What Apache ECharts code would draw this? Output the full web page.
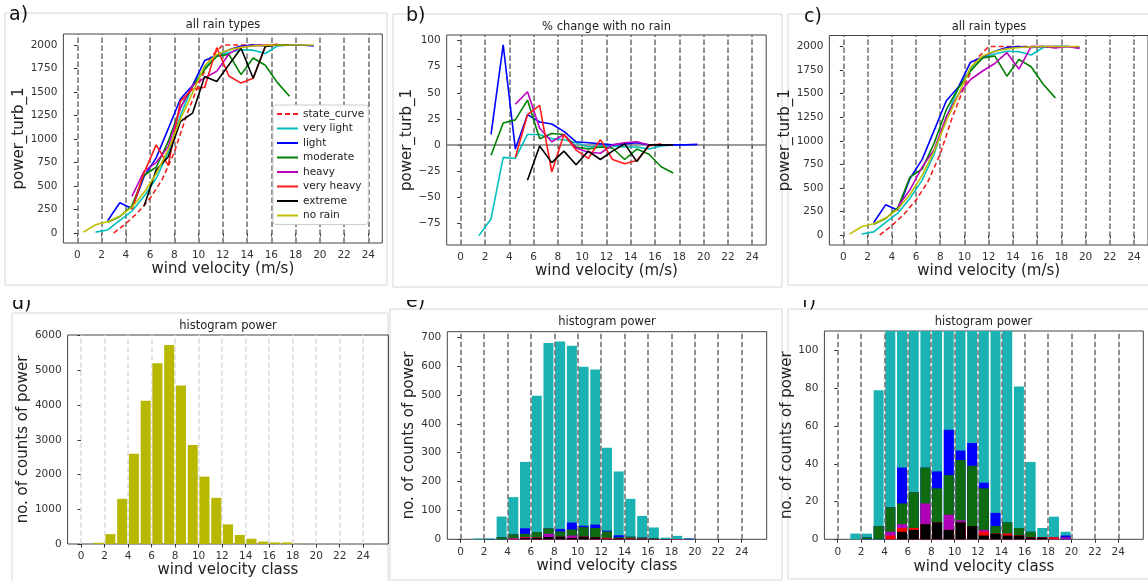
<!DOCTYPE html>
<html>
<head>
<meta charset="utf-8">
<script src="https://cdn.jsdelivr.net/npm/echarts@6/dist/echarts.min.js"></script>
<style>
  html, body { margin: 0; padding: 0; background: #fff; }
  #chart1 { width: 1148px; height: 581px; }
</style>
</head>
<body>
<div id="chart1"></div>
<script>
// ---- data ----
var binX = [0.5, 1.5, 2.5, 3.5, 4.5, 5.5, 6.5, 7.5, 8.5, 9.5, 10.5, 11.5, 12.5, 13.5, 14.5, 15.5, 16.5, 17.5, 18.5, 19.5];

var stateX = [3, 4, 5, 6, 7, 8, 9, 10, 11, 12, 13, 14, 15, 16, 17];
var stateCurve = [0, 100, 220, 370, 570, 860, 1250, 1580, 1870, 2000, 2000, 2000, 2000, 2000, 2000];

// mean power per wind bin (panel a)
var noRain    = [10, 88, 120, 180, 275, 430, 630, 890, 1210, 1490, 1780, 1900, 1950, 1975, 1990, 1995, 2000, 2000, 2000, 2000];
var veryLight = [null, 10, 33, 135, 232, 390, 580, 860, 1250, 1560, 1760, 1880, 1920, 1950, 1945, 1910, 1990, 2000, 2000, null];
var light     = [null, null, 130, 322, 262, 600, 800, 1110, 1425, 1570, 1834, 1890, 1950, 1990, 2000, 1990, 2000, 2000, 2000, 1990];
var moderate  = [null, null, 115, 175, 290, 615, 700, 975, 1330, 1560, 1740, 1880, 1900, 1685, 1862, 1785, 1600, 1455, null, null];
var heavy     = [null, null, null, null, 390, 655, 750, 920, 1330, 1570, 1650, 1720, 1905, 1980, 1990, 2000, null, null, null, null];
var veryHeavy = [null, null, null, null, 250, 640, 938, 719, 1400, 1530, 1550, 1972, 1670, 1595, 1646, 1985, 2010, null, null, null];
var extreme   = [null, null, null, null, null, 285, 670, 812, 1186, 1275, 1664, 1611, 1790, 1965, 1646, 1985, 2000, 2000, null, null];

// heavy rain curve of panel c
var heavyC    = [null, null, null, null, 300, 480, 720, 905, 1255, 1490, 1650, 1740, 1820, 1935, 1760, 2000, 2000, 1985, 2000, 1980];

// % change with no rain (panel b)
var veryLightPct = [null, -87, -71, -12, -13, 10, 10, 6, 5, 2, -2, -1, -1, -2, -2, -4, -1, 0, 0, null];
var lightPct     = [null, null, 10, 96, -4, 29, 22, 20, 13, 3, 2, 1, 0, 1, 2, 0, 0, 0, 0, 0.5];
var moderatePct  = [null, null, -10, 21, 24, 43, 6, 11, 10, -2, -4, -2, -3, -14, -4, -9, -21, -27, null, null];
var heavyPct     = [null, null, null, null, 39, 51, 16, 3, 10, -3, -7, -8, 0, 2, 3, 0, null, null, null, null];
var veryHeavyPct = [null, null, null, null, -12, 29, 38, -26, 10, -5, -13, 5, -14, -18, -15, -1, 1, null, null, null];
var extremePct   = [null, null, null, null, null, -34, -1, -17, -6, -19, -6, -14, -6, 1, -16, 0, 0, 0, null, null];

// histograms
var classX = [0.5, 1.5, 2.5, 3.5, 4.5, 5.5, 6.5, 7.5, 8.5, 9.5, 10.5, 11.5, 12.5, 13.5, 14.5, 15.5, 16.5, 17.5, 18.5, 19.5, 20.5, 21.5, 22.5, 23.5, 24.5];
var histAll = [0, 35, 285, 1300, 2600, 4125, 5200, 5730, 4560, 2850, 1940, 1330, 565, 260, 150, 70, 45, 45, 5, 0, 0, 0, 0, 0, 0];

var rainExtreme   = [0, 0, 0, 0, 0, 4, 5, 8, 9, 5, 9, 7, 2, 3, 2, 2, 1, 1, 0, 0, 0, 0, 0, 0, 0];
var rainVeryHeavy = [0, 0, 0, 0, 2, 2, 1, 0, 0, 0, 0, 0, 2, 0, 1, 0, 0, 0, 1, 0, 0, 0, 0, 0, 0];
var rainHeavy     = [0, 0, 0, 0, 2, 2, 0, 11, 0, 8, 1, 0, 1, 0, 0, 0, 0, 0, 0, 1, 0, 0, 0, 0, 0];
var rainModerate  = [0, 0, 1, 7, 13, 11, 19, 19, 18, 21, 32, 32, 22, 4, 6, 4, 3, 0, 0, 0, 0, 0, 0, 0, 0];
var rainLight     = [0, 0, 0, 0, 0, 19, 0, 0, 9, 24, 5, 12, 3, 7, 0, 0, 0, 0, 0, 1, 0, 0, 0, 0, 0];
var rainVeryLight = [0, 3, 2, 72, 129, 230, 472, 642, 649, 612, 551, 537, 287, 221, 131, 75, 37, 5, 11, 2, 0, 0, 0, 0, 0];

// tick labels
var windTicks = [0, 2, 4, 6, 8, 10, 12, 14, 16, 18, 20, 22, 24];
var powerTicks = [0, 250, 500, 750, 1000, 1250, 1500, 1750, 2000];
var pctTicks = [-75, -50, -25, 0, 25, 50, 75, 100];
var countTicksD = [0, 1000, 2000, 3000, 4000, 5000, 6000];
var countTicksE = [0, 100, 200, 300, 400, 500, 600, 700];
var countTicksF = [0, 20, 40, 60, 80, 100];

var rainNames = ['state_curve', 'very light', 'light', 'moderate', 'heavy', 'very heavy', 'extreme', 'no rain'];

// ---- chart ----
var FONT = 'DejaVu Sans';
var COL = {
  state: '#f02020', veryLight: '#00bfbf', light: '#0000ff', moderate: '#008000',
  heavy: '#bf00bf', veryHeavy: '#ff1a1a', extreme: '#000000', noRain: '#bfbf00'
};
var BAR = {
  veryLight: '#1ab2b2', light: '#0000ff', moderate: '#0f6b0f',
  heavy: '#b000b8', veryHeavy: '#ff0000', extreme: '#000000', all: '#b8b800'
};

var dom = document.getElementById('chart1');
var myChart = echarts.init(dom, null, { renderer: 'canvas' });

function pairs(xs, ys) {
  var out = [];
  for (var i = 0; i < xs.length; i++) {
    if (ys[i] != null) out.push([xs[i], ys[i]]);
  }
  return out;
}

function cumulate(list) {
  var out = [], run = [];
  for (var k = 0; k < list.length; k++) {
    for (var i = 0; i < list[k].length; i++) {
      run[i] = (run[i] || 0) + list[k][i];
    }
    out.push(run.slice());
  }
  return out;
}

function lineSeries(name, color, xs, ys, idx, dashed) {
  return {
    name: name, type: 'line', xAxisIndex: idx, yAxisIndex: idx,
    data: pairs(xs, ys), symbol: 'none', showSymbol: false, z: 3,
    lineStyle: { color: color, width: 1.6, type: dashed ? [5, 3] : 'solid' },
    itemStyle: { color: color }, emphasis: { disabled: true }
  };
}

function barSeries(color, ys, idx) {
  return {
    type: 'bar', xAxisIndex: idx, yAxisIndex: idx, data: pairs(classX, ys),
    barWidth: 10, barGap: '-100%', z: 2, clip: true,
    itemStyle: { color: color }, emphasis: { disabled: true }
  };
}

function vlines(idx, color, z) {
  return {
    type: 'line', xAxisIndex: idx, yAxisIndex: idx, data: [], silent: true,
    markLine: {
      silent: true, z: z, animation: false, symbol: ['none', 'none'], label: { show: false },
      lineStyle: { color: color, type: [5.5, 2.5], width: 1.5 },
      data: windTicks.map(function (v) { return { xAxis: v }; })
    }
  };
}

function xAxisFor(idx, min, max, name, gap) {
  return {
    type: 'value', gridIndex: idx, min: min, max: max,
    name: name, nameLocation: 'middle', nameGap: gap,
    nameTextStyle: { fontSize: 15, color: '#222', fontFamily: FONT },
    axisLine: { show: false }, splitLine: { show: false },
    axisTick: { show: true, length: 3.5, customValues: windTicks, lineStyle: { color: '#333' } },
    axisLabel: { customValues: windTicks, fontSize: 10.5, color: '#333', margin: 7, fontFamily: FONT }
  };
}

function yAxisFor(idx, min, max, ticks, name, gap) {
  return {
    type: 'value', gridIndex: idx, min: min, max: max,
    name: name, nameLocation: 'middle', nameGap: gap,
    nameTextStyle: { fontSize: 15, color: '#222', fontFamily: FONT },
    axisLine: { show: false }, splitLine: { show: false },
    axisTick: { show: true, length: 3.5, customValues: ticks, lineStyle: { color: '#333' } },
    axisLabel: {
      customValues: ticks, fontSize: 10.5, color: '#333', margin: 6, fontFamily: FONT,
      formatter: function (v) { return String(v).replace('-', '\u2212'); }
    }
  };
}

var gridBase = { show: true, borderColor: '#444', borderWidth: 1, backgroundColor: 'transparent', containLabel: false };
var grids = [
  { left: 63.4, top: 34, width: 318.9, height: 209 },
  { left: 446.7, top: 35, width: 319.5, height: 210 },
  { left: 829.4, top: 35.5, width: 318.9, height: 209.5 },
  { left: 67.6, top: 335, width: 320.8, height: 209 },
  { left: 447.3, top: 331.7, width: 319.4, height: 207.6 },
  { left: 824.4, top: 331, width: 318.9, height: 208.3 }
].map(function (g) { return Object.assign({}, gridBase, g); });

var rainCum = cumulate([rainExtreme, rainVeryHeavy, rainHeavy, rainModerate, rainLight, rainVeryLight]);
var rainColors = [BAR.extreme, BAR.veryHeavy, BAR.heavy, BAR.moderate, BAR.light, BAR.veryLight];

function rainBars(idx) {
  var out = [];
  for (var k = rainCum.length - 1; k >= 0; k--) {
    out.push(barSeries(rainColors[k], rainCum[k], idx));
  }
  return out;
}

var series = [
  vlines(0, '#6e6e6e', 1),
  lineSeries('state_curve', COL.state, stateX, stateCurve, 0, true),
  lineSeries('very light', COL.veryLight, binX, veryLight, 0),
  lineSeries('light', COL.light, binX, light, 0),
  lineSeries('moderate', COL.moderate, binX, moderate, 0),
  lineSeries('heavy', COL.heavy, binX, heavy, 0),
  lineSeries('very heavy', COL.veryHeavy, binX, veryHeavy, 0),
  lineSeries('extreme', COL.extreme, binX, extreme, 0),
  lineSeries('no rain', COL.noRain, binX, noRain, 0),

  vlines(1, '#6e6e6e', 1),
  {
    type: 'line', xAxisIndex: 1, yAxisIndex: 1, data: [], silent: true,
    markLine: {
      silent: true, z: 2, animation: false, symbol: ['none', 'none'], label: { show: false },
      lineStyle: { color: '#7a7a7a', type: 'solid', width: 1.5 },
      data: [{ yAxis: 0 }]
    }
  },
  lineSeries('very light', COL.veryLight, binX, veryLightPct, 1),
  lineSeries('light', COL.light, binX, lightPct, 1),
  lineSeries('moderate', COL.moderate, binX, moderatePct, 1),
  lineSeries('heavy', COL.heavy, binX, heavyPct, 1),
  lineSeries('very heavy', COL.veryHeavy, binX, veryHeavyPct, 1),
  lineSeries('extreme', COL.extreme, binX, extremePct, 1),

  vlines(2, '#6e6e6e', 1),
  lineSeries('state_curve', COL.state, stateX, stateCurve, 2, true),
  lineSeries('very light', COL.veryLight, binX, veryLight, 2),
  lineSeries('light', COL.light, binX, light, 2),
  lineSeries('moderate', COL.moderate, binX, moderate, 2),
  lineSeries('heavy', COL.heavy, binX, heavyC, 2),
  lineSeries('no rain', COL.noRain, binX, noRain, 2),

  vlines(3, '#dcdcdc', 1),
  barSeries(BAR.all, histAll, 3),

  vlines(4, '#6e6e6e', 5)
].concat(rainBars(4)).concat([vlines(5, '#6e6e6e', 5)]).concat(rainBars(5));

function label(text, x, y, size, vAlign) {
  return {
    type: 'text', x: x, y: y, z: 10, silent: true,
    style: {
      text: text, fill: '#111', fontSize: size, fontFamily: FONT,
      align: 'left', textAlign: 'left', verticalAlign: vAlign, textVerticalAlign: vAlign
    }
  };
}
function title(text, x, y) {
  return {
    type: 'text', x: x, y: y, z: 10, silent: true,
    style: {
      text: text, fill: '#222', fontSize: 11.5, fontFamily: FONT,
      align: 'center', textAlign: 'center', verticalAlign: 'middle', textVerticalAlign: 'middle'
    }
  };
}
function frame(x, y, w, h) {
  return {
    type: 'rect', z: -1, silent: true, shape: { x: x, y: y, width: w, height: h },
    style: { fill: 'none', stroke: '#d6d6d6', lineWidth: 1 }
  };
}
function mask(x, y, w, h) {
  return {
    type: 'rect', z: 11, silent: true, shape: { x: x, y: y, width: w, height: h },
    style: { fill: '#fff', stroke: 'none' }
  };
}

var option = {
  animation: false,
  textStyle: { fontFamily: FONT },
  grid: grids,
  xAxis: [
    xAxisFor(0, -1.15, 25.15, 'wind velocity (m/s)', 17),
    xAxisFor(1, -1.15, 25.15, 'wind velocity (m/s)', 17),
    xAxisFor(2, -1.15, 25.15, 'wind velocity (m/s)', 18.5),
    xAxisFor(3, -1.14, 26.14, 'wind velocity class', 17.5),
    xAxisFor(4, -1.14, 26.14, 'wind velocity class', 19),
    xAxisFor(5, -1.14, 26.14, 'wind velocity class', 20)
  ],
  yAxis: [
    yAxisFor(0, -106, 2117, powerTicks, 'power_turb_1', 34),
    yAxisFor(1, -96, 105.4, pctTicks, 'power_turb_1', 30),
    yAxisFor(2, -106, 2117, powerTicks, 'power_turb_1', 33),
    yAxisFor(3, 0, 6016, countTicksD, 'no. of counts of power', 33.6),
    yAxisFor(4, 0, 719, countTicksE, 'no. of counts of power', 31),
    yAxisFor(5, 0, 110.4, countTicksF, 'no. of counts of power', 29)
  ],
  legend: {
    data: rainNames, orient: 'vertical', left: 273, top: 105,
    itemWidth: 21, itemHeight: 12, itemGap: 2.5, selectedMode: false,
    // line-only icons: hide the marker the line legend adds in the middle
    itemStyle: { color: 'rgba(0,0,0,0)', borderColor: 'rgba(0,0,0,0)', borderWidth: 0 },
    backgroundColor: '#fff', borderColor: '#cccccc', borderWidth: 1, borderRadius: 3,
    padding: [3, 4, 3, 3],
    textStyle: { fontSize: 10.5, color: '#222', fontFamily: FONT, lineHeight: 12 }
  },
  graphic: [
    frame(5, 13, 382, 272),
    frame(393, 14, 389, 273),
    frame(788, 14, 370, 271),
    frame(12, 313, 376, 280),
    frame(390, 309, 392, 271),
    frame(788, 309, 370, 270),
    title('all rain types', 223, 25.5),
    title('% change with no rain', 606.5, 27),
    title('all rain types', 989, 27.5),
    title('histogram power', 228, 326),
    title('histogram power', 607, 322),
    title('histogram power', 983.5, 322),
    label('a)', 9, 15, 19, 'middle'),
    label('b)', 406, 16, 19, 'middle'),
    label('c)', 804, 17.5, 19, 'middle'),
    label('d)', 12, 314, 19, 'bottom'),
    label('e)', 406, 312, 19, 'bottom'),
    label('f)', 802, 312, 19, 'bottom'),
    mask(0, 288, 45, 12),
    mask(395, 289, 45, 11),
    mask(790, 288, 45, 12)
  ],
  series: series
};

if (option && typeof option === 'object') {
  myChart.setOption(option);
}

window.addEventListener('resize', myChart.resize);
</script>
</body>
</html>
